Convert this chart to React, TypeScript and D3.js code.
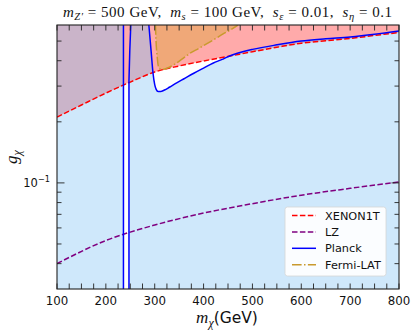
import React, { useEffect, useRef } from "react";
import * as d3 from "d3";

// XENON1T bound (g_chi vs m_chi)
const xenonMass = [100, 150, 200, 250, 300, 350, 400, 450, 500, 550, 600, 650, 700, 750, 800];
const xenonG = [0.211, 0.242, 0.277, 0.314, 0.352, 0.377, 0.399, 0.42, 0.443, 0.466, 0.488, 0.502, 0.515, 0.533, 0.551];

// LZ projection
const lzMass = [100, 200, 300, 400, 500, 600, 700, 800];
const lzG = [0.04, 0.052, 0.062, 0.071, 0.079, 0.087, 0.094, 0.101];

// Planck relic density curve (main branch)
const planckMass = [288, 292.5, 296.5, 300, 303, 307, 312, 320, 330, 345, 360, 380, 400, 420, 438, 448, 460, 480, 500, 550, 600, 650, 700, 750, 800];
const planckG = [0.6, 0.45, 0.348, 0.305, 0.289, 0.282, 0.282, 0.287, 0.296, 0.311, 0.326, 0.347, 0.368, 0.39, 0.406, 0.417, 0.428, 0.443, 0.455, 0.479, 0.5, 0.513, 0.524, 0.54, 0.56];

// Planck resonance strip near m_Z'/2
const resLeftMass = [236, 236];
const resLeftG = [0.6, 0.03];
const resRightMass = [251, 249, 247.3, 247.3];
const resRightG = [0.6, 0.45, 0.32, 0.03];

// Fermi-LAT bound
const fermiMass = [301.5, 302.6, 305, 307.5, 311, 315, 322, 338, 355, 372, 390, 406, 423, 440, 455, 470.5];
const fermiG = [0.6, 0.506, 0.42, 0.375, 0.364, 0.362, 0.365, 0.381, 0.406, 0.435, 0.46, 0.484, 0.512, 0.542, 0.568, 0.6];

const xTickLabels = [100, 200, 300, 400, 500, 600, 700, 800];
const yMinorTicks = [0.04, 0.05, 0.06, 0.07, 0.08, 0.09, 0.2, 0.3, 0.4, 0.5];
const yMajorTicks = [0.1];

const legendItems = [
  { label: "XENON1T", color: "#ff0000", dash: "5.5,2.4" },
  { label: "LZ", color: "#800080", dash: "5.5,2.4" },
  { label: "Planck", color: "#0000ff", dash: null },
  { label: "Fermi-LAT", color: "#c99a2e", dash: "9.6,2.4,1.5,2.4" },
];

const SERIF = "'Liberation Serif', 'DejaVu Serif', serif";
const SANS = "'DejaVu Sans', sans-serif";

type Part = { t: string; i?: boolean; s?: boolean };

function mathText(g: any, parts: Part[], size: number, subShift: number) {
  let prev = 0;
  g.selectAll("tspan")
    .data(parts)
    .join("tspan")
    .attr("font-style", (d: Part) => (d.i ? "italic" : "normal"))
    .attr("font-size", (d: Part) => (d.s ? size * 0.7 : size))
    .attr("dy", (d: Part) => {
      const cur = d.s ? subShift : 0;
      const dy = cur - prev;
      prev = cur;
      return dy;
    })
    .text((d: Part) => d.t);
}

export default function App() {
  const chartRef = useRef<SVGSVGElement>(null);

  useEffect(() => {
    const svg = d3.select(chartRef.current);
    const left = 57, right = 399, top = 25, bottom = 289;

    const x = d3.scaleLinear().domain([100, 800]).range([left, right]);
    const y = d3.scaleLog().domain([0.03, 0.6]).range([bottom, top]);

    const pts = (ms: number[], gs: number[]) => ms.map((m, i) => [x(m), y(gs[i])] as [number, number]);
    const smooth = d3.line().curve(d3.curveMonotoneX);
    const straight = d3.line();

    svg.append("defs")
      .append("clipPath")
      .attr("id", "plotArea")
      .append("rect")
      .attr("x", left)
      .attr("y", top)
      .attr("width", right - left)
      .attr("height", bottom - top);

    // regions
    const blueLeft = straight([
      [x(100), y(0.03)], [x(100), y(0.6)], [x(236), y(0.6)], [x(236), y(0.03)],
    ]) + "Z";
    const resRight = pts(resRightMass, resRightG).reverse();
    const mainCurve = smooth(pts(planckMass, planckG)) as string;
    const blueRight = straight(resRight) + "L" + mainCurve.slice(1) + `L${x(800)},${y(0.03)}Z`;

    const xenonCurve = smooth(pts(xenonMass, xenonG)) as string;
    const pinkPath = xenonCurve + `L${x(800)},${y(0.6)}L${x(100)},${y(0.6)}Z`;
    const fermiPath = (smooth(pts(fermiMass, fermiG)) as string) + "Z";

    const defs = svg.select("defs");
    const cp = defs.append("clipPath").attr("id", "blueArea");
    cp.append("path").attr("d", blueLeft);
    cp.append("path").attr("d", blueRight);

    const plot = svg.append("g").attr("clip-path", "url(#plotArea)");
    plot.append("path").attr("d", blueLeft).attr("fill", "#cfe8fb");
    plot.append("path").attr("d", blueRight).attr("fill", "#cfe8fb");
    plot.append("path").attr("d", pinkPath).attr("fill", "#ffaaaa");
    plot.append("g").attr("clip-path", "url(#blueArea)")
      .append("path").attr("d", pinkPath).attr("fill", "#cab4c9");
    plot.append("path").attr("d", fermiPath).attr("fill", "#f0a878");

    // lines
    plot.append("path").attr("d", smooth(pts(lzMass, lzG)))
      .attr("fill", "none").attr("stroke", "#800080").attr("stroke-width", 1.5)
      .attr("stroke-dasharray", "5.5,2.4");
    plot.append("path").attr("d", xenonCurve)
      .attr("fill", "none").attr("stroke", "#ff0000").attr("stroke-width", 1.5)
      .attr("stroke-dasharray", "5.5,2.4");
    plot.append("path").attr("d", fermiPath.slice(0, -1))
      .attr("fill", "none").attr("stroke", "#c99a2e").attr("stroke-width", 1.5)
      .attr("stroke-dasharray", "9.6,2.4,1.5,2.4");
    [mainCurve, straight(pts(resLeftMass, resLeftG)), straight(pts(resRightMass, resRightG))].forEach(d =>
      plot.append("path").attr("d", d)
        .attr("fill", "none").attr("stroke", "#0000ff").attr("stroke-width", 1.5)
    );

    // ticks (inward, all four sides)
    const ticks = svg.append("g").attr("stroke", "#222").attr("stroke-width", 0.9);
    d3.range(100, 801, 25).forEach(m => {
      ticks.append("line").attr("x1", x(m)).attr("x2", x(m)).attr("y1", bottom).attr("y2", bottom - 5.5);
      ticks.append("line").attr("x1", x(m)).attr("x2", x(m)).attr("y1", top).attr("y2", top + 5.5);
    });
    const yt = [...yMinorTicks.map(v => ({ v, l: 4.5 })), ...yMajorTicks.map(v => ({ v, l: 7.5 }))];
    yt.forEach(({ v, l }) => {
      ticks.append("line").attr("x1", left).attr("x2", left + l).attr("y1", y(v)).attr("y2", y(v));
      ticks.append("line").attr("x1", right).attr("x2", right - l).attr("y1", y(v)).attr("y2", y(v));
    });

    svg.append("rect")
      .attr("x", left).attr("y", top).attr("width", right - left).attr("height", bottom - top)
      .attr("fill", "none").attr("stroke", "#222").attr("stroke-width", 1.1);

    // tick labels
    svg.append("g")
      .selectAll("text")
      .data(xTickLabels)
      .join("text")
      .attr("x", d => x(d))
      .attr("y", 305)
      .attr("text-anchor", "middle")
      .attr("font-family", SANS)
      .attr("font-size", 11.8)
      .attr("fill", "#111")
      .text(d => d);

    const yl = svg.append("text")
      .attr("x", 50).attr("y", y(0.1) + 4)
      .attr("text-anchor", "end")
      .attr("font-family", SANS)
      .attr("fill", "#111");
    yl.append("tspan").attr("font-size", 11.5).text("10");
    yl.append("tspan").attr("font-size", 8.2).attr("dy", -4.5).text("−1");

    // title
    const title = svg.append("text")
      .attr("x", 63).attr("y", 17)
      .attr("textLength", 329)
      .attr("lengthAdjust", "spacing")
      .attr("font-family", SERIF)
      .attr("fill", "#111")
      .style("white-space", "pre");
    mathText(title, [
      { t: "m", i: true }, { t: "Z′", i: true, s: true }, { t: " = 500 GeV,  " },
      { t: "m", i: true }, { t: "s", i: true, s: true }, { t: " = 100 GeV,  " },
      { t: "s", i: true }, { t: "ε", i: true, s: true }, { t: " = 0.01,  " },
      { t: "s", i: true }, { t: "η", i: true, s: true }, { t: " = 0.1" },
    ], 15, 3);

    // axis labels
    const xl = svg.append("text")
      .attr("x", 227).attr("y", 323)
      .attr("text-anchor", "middle")
      .attr("fill", "#111");
    xl.append("tspan").attr("font-family", SERIF).attr("font-style", "italic").attr("font-size", 17).text("m");
    xl.append("tspan").attr("font-family", SERIF).attr("font-style", "italic").attr("font-size", 12).attr("dy", 4).text("χ");
    xl.append("tspan").attr("font-family", SANS).attr("font-size", 15.5).attr("dy", -4).text("(GeV)");

    const ylab = svg.append("text")
      .attr("transform", "translate(17,157) rotate(-90)")
      .attr("text-anchor", "middle")
      .attr("font-family", SERIF)
      .attr("font-style", "italic")
      .attr("fill", "#111");
    ylab.append("tspan").attr("font-size", 17).text("g");
    ylab.append("tspan").attr("font-size", 12).attr("dy", 4).text("χ");

    // legend
    const lg = svg.append("g");
    lg.append("rect")
      .attr("x", 285).attr("y", 207).attr("width", 101).attr("height", 69).attr("rx", 2.5)
      .attr("fill", "#fff").attr("fill-opacity", 0.9).attr("stroke", "#d6d6d6").attr("stroke-width", 0.8);
    legendItems.forEach((item, i) => {
      const cy = 215.5 + i * 16.4;
      lg.append("line")
        .attr("x1", 292).attr("x2", 316).attr("y1", cy).attr("y2", cy)
        .attr("stroke", item.color).attr("stroke-width", 1.5)
        .attr("stroke-dasharray", item.dash);
      lg.append("text")
        .attr("x", 325).attr("y", cy + 4)
        .attr("font-family", SANS).attr("font-size", 11.3).attr("fill", "#111")
        .text(item.label);
    });

    return () => {
      svg.html("");
    };
  }, []);

  return (
    <svg
      ref={chartRef}
      width={416}
      height={335}
      style={{ position: "absolute", left: 0, top: 0, background: "#fff" }}
    />
  );
}
